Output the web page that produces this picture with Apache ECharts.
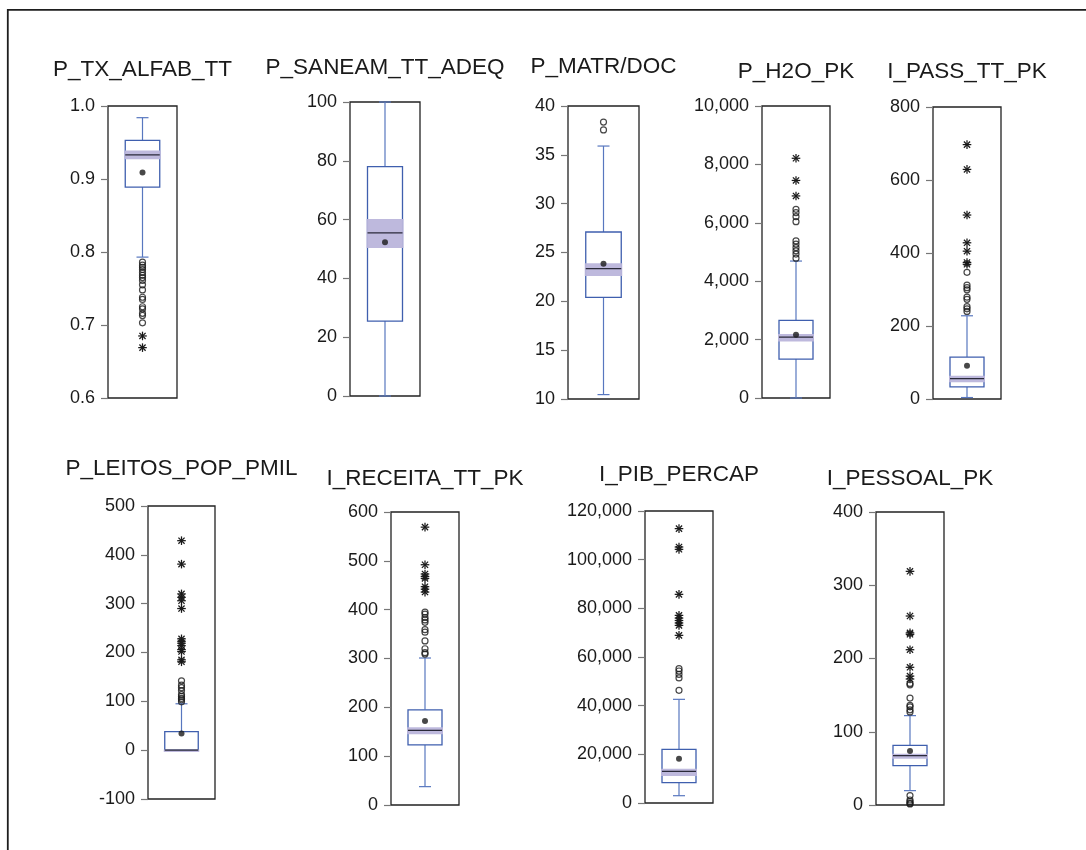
<!DOCTYPE html>
<html>
<head>
<meta charset="utf-8">
<title>Box plots</title>
<script src="https://cdn.jsdelivr.net/npm/echarts@6/dist/echarts.min.js"></script>
<style>
  html, body { margin: 0; padding: 0; background: #fff; }
  #chart { width: 1086px; height: 850px; }
</style>
</head>
<body>
<div id="chart"></div>
<script>
// Variable names, one panel each
const variables = [
  'P_TX_ALFAB_TT', 'P_SANEAM_TT_ADEQ', 'P_MATR/DOC', 'P_H2O_PK', 'I_PASS_TT_PK',
  'P_LEITOS_POP_PMIL', 'I_RECEITA_TT_PK', 'I_PIB_PERCAP', 'I_PESSOAL_PK'
];

// Box summaries per variable
const whiskerLow  = [0.793, 0,   10.45, 0,    4,   0,   37.6, 3000,  19.6];
const quartile1   = [0.889, 25.5, 20.4, 1334, 33,  0,   123,  8350,  53.8];
const median      = [0.933, 55.5, 23.35, 2087, 56,  0,   153,  13000, 67.5];
const quartile3   = [0.953, 78,   27.1, 2657, 115, 38,  195,  22050, 81.5];
const whiskerHigh = [0.984, 100,  35.9, 4690, 228, 95,  301,  42600, 122];
const medianCILow  = [0.927, 50.3, 22.6, 1938, 46, -3.5, 145, 11100, 63];
const medianCIHigh = [0.939, 60.2, 23.9, 2189, 64,  1.5, 159, 14100, 69.8];
const means       = [0.909, 52.3, 23.85, 2170, 91, 34,  172,  18200, 73.8];

// Near outliers (open circles)
const nearOutliers = [
  [0.786, 0.782, 0.779, 0.776, 0.772, 0.768, 0.765, 0.761, 0.755, 0.748, 0.738, 0.735, 0.725, 0.722, 0.716, 0.713, 0.703],
  [],
  [37.55, 38.35],
  [4790, 4930, 5040, 5150, 5270, 5380, 6040, 6210, 6350, 6460],
  [240, 247, 253, 273, 279, 299, 305, 312, 347],
  [99, 103, 106, 110, 114, 122, 128, 133, 142],
  [309, 312, 320, 336, 354, 359, 374, 379, 384, 391, 395],
  [46300, 51400, 52900, 54250, 55200],
  [1.4, 2.3, 4.6, 6.8, 12.8, 127, 130, 134, 136, 146, 164, 166]
];

// Far outliers (asterisks)
const farOutliers = [
  [0.669, 0.685],
  [],
  [],
  [6920, 7450, 8210],
  [369, 374, 405, 428, 504, 629, 697],
  [181, 185, 202, 206, 214, 219, 223, 228, 290, 306, 313, 320, 381, 429],
  [436, 442, 447, 464, 468, 473, 492, 569],
  [68900, 73000, 74000, 75000, 76000, 77100, 85750, 104250, 105200, 112750],
  [172, 176, 188, 212, 233, 235, 258, 319]
];

// Value axis scales
const axisMin  = [0.6, 0,   10, 0,     0,   -100, 0,   0,      0];
const axisMax  = [1.0, 100, 40, 10000, 800, 500,  600, 120000, 400];
const axisStep = [0.1, 20,  5,  2000,  200, 100,  100, 20000,  100];
const axisDecimals = [1, 0, 0, 0, 0, 0, 0, 0, 0];

// Panel placement: plot frame left, top, width, height and title centre y
const layout = [
  [108, 106, 69, 292, 70],
  [350, 102, 70, 294, 68],
  [568, 106, 71, 293, 67],
  [762, 106, 68, 292, 72],
  [933, 107, 68, 292, 72],
  [148, 506, 67, 293, 469],
  [391, 512, 68, 293, 479],
  [645, 511, 68, 292, 475],
  [876, 512, 68, 293, 479]
];

const FONT = '"Liberation Sans", Arial, sans-serif';
const BOX_BLUE = '#3F5FAE';
const WHISKER_BLUE = '#5877BF';
const BAND = '#BAB5DB';
const INK = '#1a1a1a';

function formatTick(decimals) {
  return function (v) {
    if (decimals > 0) return v.toFixed(decimals);
    return Math.round(v).toLocaleString('en-US');
  };
}

// Box, median band, median line and whiskers
function renderBox(params, api) {
  const wl = api.value(1), q1 = api.value(2), md = api.value(3), q3 = api.value(4),
        wh = api.value(5), cl = api.value(6), ch = api.value(7);
  const cx = api.coord([0, md])[0];
  const half = api.size([1, 0])[0] * 0.25;
  const capHalf = 6;
  const y = v => api.coord([0, v])[1];
  const lineStyle = { stroke: WHISKER_BLUE, lineWidth: 1.2 };
  const children = [];
  // whiskers
  children.push({ type: 'line', shape: { x1: cx, y1: y(q3), x2: cx, y2: y(wh) }, style: lineStyle });
  children.push({ type: 'line', shape: { x1: cx, y1: y(q1), x2: cx, y2: y(wl) }, style: lineStyle });
  children.push({ type: 'line', shape: { x1: cx - capHalf, y1: y(wh), x2: cx + capHalf, y2: y(wh) }, style: lineStyle });
  children.push({ type: 'line', shape: { x1: cx - capHalf, y1: y(wl), x2: cx + capHalf, y2: y(wl) }, style: lineStyle });
  // box
  children.push({
    type: 'rect',
    shape: { x: cx - half, y: y(q3), width: 2 * half, height: y(q1) - y(q3) },
    style: { fill: '#fff', stroke: BOX_BLUE, lineWidth: 1.3 }
  });
  // median confidence band
  children.push({
    type: 'rect',
    shape: { x: cx - half - 1, y: y(ch), width: 2 * half + 2, height: y(cl) - y(ch) },
    style: { fill: BAND, opacity: 0.95 }
  });
  // median line
  children.push({
    type: 'line',
    shape: { x1: cx - half, y1: y(md), x2: cx + half, y2: y(md) },
    style: { stroke: '#2a2a3a', lineWidth: 1.3 }
  });
  return { type: 'group', children: children };
}

// Asterisk marker for far outliers
function renderStar(params, api) {
  const p = api.coord([api.value(0), api.value(1)]);
  const r = 4.3, d = r * 0.72;
  const st = { stroke: INK, lineWidth: 1.25 };
  return {
    type: 'group',
    children: [
      { type: 'line', shape: { x1: p[0] - r, y1: p[1], x2: p[0] + r, y2: p[1] }, style: st },
      { type: 'line', shape: { x1: p[0], y1: p[1] - r, x2: p[0], y2: p[1] + r }, style: st },
      { type: 'line', shape: { x1: p[0] - d, y1: p[1] - d, x2: p[0] + d, y2: p[1] + d }, style: st },
      { type: 'line', shape: { x1: p[0] - d, y1: p[1] + d, x2: p[0] + d, y2: p[1] - d }, style: st }
    ]
  };
}

const grids = [], xAxes = [], yAxes = [], series = [], texts = [];

variables.forEach((name, i) => {
  const [left, top, width, height, titleY] = layout[i];
  grids.push({
    left: left, top: top, width: width, height: height,
    show: true, borderColor: '#222', borderWidth: 1.3, backgroundColor: '#fff'
  });
  xAxes.push({
    gridIndex: i, type: 'category', data: ['v'], show: false, boundaryGap: true
  });
  yAxes.push({
    gridIndex: i, type: 'value',
    min: axisMin[i], max: axisMax[i], interval: axisStep[i],
    splitLine: { show: false },
    axisLine: { show: false },
    axisTick: { show: true, length: 7, lineStyle: { color: '#777', width: 1.2 } },
    axisLabel: {
      margin: 13, color: '#1a1a1a', fontFamily: FONT, fontSize: 18,
      formatter: formatTick(axisDecimals[i])
    }
  });
  series.push({
    type: 'custom', xAxisIndex: i, yAxisIndex: i,
    renderItem: renderBox,
    data: [[0, whiskerLow[i], quartile1[i], median[i], quartile3[i], whiskerHigh[i], medianCILow[i], medianCIHigh[i]]],
    encode: { x: 0, y: [1, 5] },
    silent: true, z: 2
  });
  series.push({
    type: 'scatter', xAxisIndex: i, yAxisIndex: i,
    symbol: 'circle', symbolSize: 6,
    itemStyle: { color: 'rgba(255,255,255,0)', borderColor: INK, borderWidth: 1.2 },
    data: nearOutliers[i].map(v => [0, v]),
    silent: true, z: 3
  });
  series.push({
    type: 'custom', xAxisIndex: i, yAxisIndex: i,
    renderItem: renderStar,
    data: farOutliers[i].map(v => [0, v]),
    encode: { x: 0, y: 1 },
    silent: true, z: 3
  });
  series.push({
    type: 'scatter', xAxisIndex: i, yAxisIndex: i,
    symbol: 'circle', symbolSize: 6,
    itemStyle: { color: INK },
    data: [[0, means[i]]],
    silent: true, z: 4
  });
  texts.push({
    type: 'text', x: left + width / 2, y: titleY,
    style: {
      text: name, fill: '#1a1a1a', font: '22.5px ' + FONT,
      textAlign: 'center', textVerticalAlign: 'middle'
    }
  });
});

// outer frame along the top and left edges
texts.push({
  type: 'polyline',
  shape: { points: [[7.8, 851], [7.8, 9.8], [1087, 9.8]] },
  style: { stroke: '#1e1e1e', lineWidth: 1.8, fill: null }
});

const chart = echarts.init(document.getElementById('chart'), null, { renderer: 'canvas' });
chart.setOption({
  animation: false,
  backgroundColor: '#fff',
  grid: grids,
  xAxis: xAxes,
  yAxis: yAxes,
  series: series,
  graphic: texts
});
</script>
</body>
</html>
